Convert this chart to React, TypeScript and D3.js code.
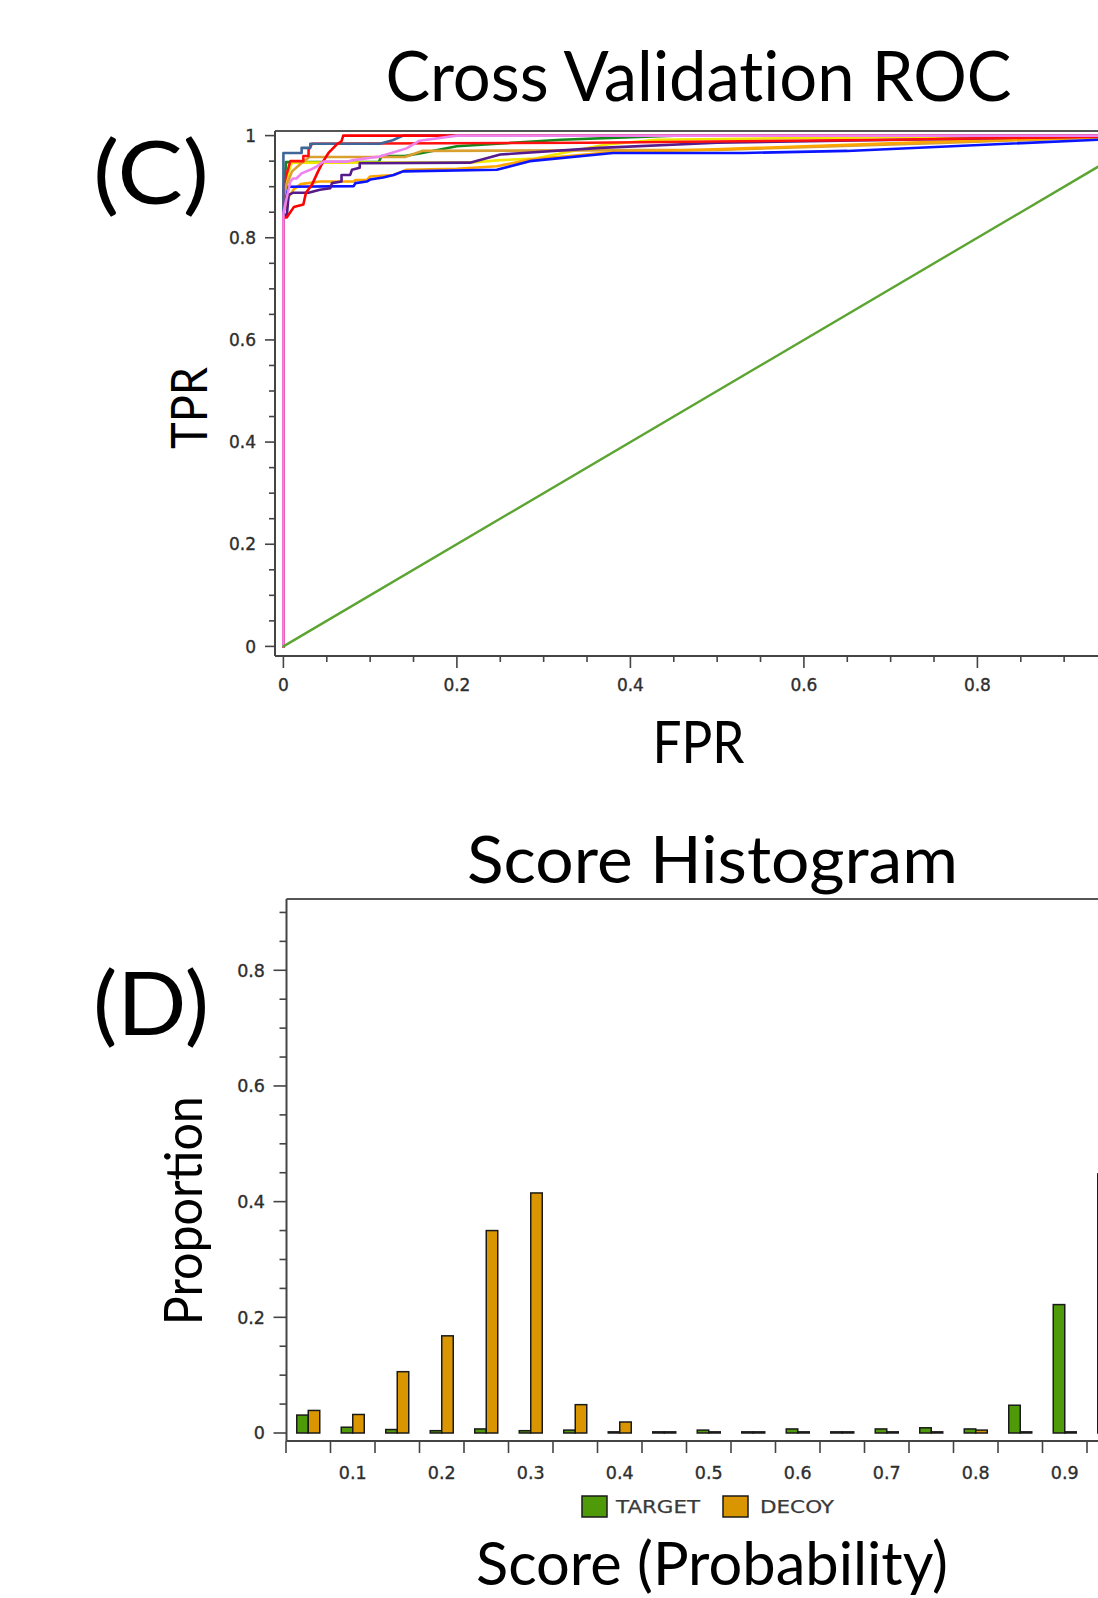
import React from "react";
import * as d3 from "d3";

// ---------- ROC data (FPR, TPR) ----------
const rocGreen: [number, number][] = [[0,0],[0,0.87],[0.003,0.948],[0.11,0.948],[0.113,0.96],[0.14,0.96],[0.16,0.966],[0.2,0.979],[0.32,0.992],[0.45,1],[1,1]];
const rocYellow: [number, number][] = [[0,0],[0,0.88],[0.002,0.9],[0.005,0.92],[0.008,0.94],[0.01,0.947],[0.215,0.947],[0.25,0.952],[0.29,0.955],[0.37,0.982],[0.43,0.992],[0.7,0.997],[1,1]];
const rocGoldenrod: [number, number][] = [[0,0],[0,0.88],[0.003,0.9],[0.01,0.93],[0.02,0.945],[0.03,0.958],[0.14,0.958],[0.16,0.97],[0.5,0.972],[0.75,0.985],[1,1]];
const rocOrange: [number, number][] = [[0,0],[0,0.85],[0.003,0.86],[0.006,0.88],[0.012,0.895],[0.02,0.905],[0.042,0.91],[0.081,0.91],[0.083,0.913],[0.096,0.913],[0.1,0.92],[0.127,0.923],[0.142,0.933],[0.2,0.935],[0.246,0.94],[0.284,0.953],[0.38,0.968],[0.48,0.972],[0.75,0.988],[1,1]];
const rocBlue: [number, number][] = [[0,0],[0,0.86],[0.002,0.87],[0.006,0.9],[0.081,0.901],[0.083,0.907],[0.096,0.91],[0.1,0.914],[0.115,0.918],[0.127,0.923],[0.138,0.93],[0.246,0.933],[0.284,0.95],[0.38,0.966],[0.53,0.966],[0.65,0.97],[0.94,0.992],[1,1]];
const rocPurple: [number, number][] = [[0,0],[0,0.845],[0.004,0.845],[0.006,0.884],[0.011,0.888],[0.029,0.888],[0.042,0.894],[0.054,0.897],[0.056,0.907],[0.067,0.91],[0.067,0.923],[0.077,0.923],[0.079,0.933],[0.088,0.937],[0.088,0.946],[0.215,0.947],[0.25,0.963],[0.365,0.976],[0.5,0.986],[0.75,0.993],[1,1]];
const rocRed2: [number, number][] = [[0,0],[0,0.9],[0.003,0.92],[0.008,0.95],[0.023,0.95],[0.023,0.96],[0.029,0.96],[0.029,0.972],[0.033,0.984],[0.35,0.986],[0.7,0.992],[0.94,0.998],[1,1]];
const rocSteel: [number, number][] = [[0,0],[0,0.966],[0.021,0.966],[0.021,0.976],[0.031,0.976],[0.031,0.984],[0.111,0.984],[0.126,0.991],[0.138,1],[1,1]];
const rocRed1: [number, number][] = [[0,0],[0,0.84],[0.004,0.84],[0.012,0.86],[0.023,0.865],[0.026,0.888],[0.033,0.904],[0.04,0.93],[0.046,0.95],[0.052,0.966],[0.061,0.982],[0.067,0.989],[0.069,1],[1,1]];
const rocViolet: [number, number][] = [[0,0],[0,0.848],[0.004,0.88],[0.008,0.91],[0.011,0.916],[0.015,0.916],[0.021,0.926],[0.031,0.933],[0.038,0.939],[0.046,0.949],[0.073,0.949],[0.081,0.952],[0.111,0.959],[0.142,0.975],[0.157,0.99],[0.2,1],[1,1]];
const rocDiagonal: [number, number][] = [[0,0],[1,1]];

const rocCurves = [
  { data: rocGreen, color: "#12871a" },
  { data: rocYellow, color: "#f2e600" },
  { data: rocGoldenrod, color: "#d9a030" },
  { data: rocOrange, color: "#ffa500" },
  { data: rocBlue, color: "#0a14ff" },
  { data: rocPurple, color: "#551a8b" },
  { data: rocRed2, color: "#ff1010" },
  { data: rocSteel, color: "#3f6699" },
  { data: rocRed1, color: "#ff0000" },
  { data: rocViolet, color: "#ee82ee" },
];

const rocXTicks = [0, 0.2, 0.4, 0.6, 0.8];
const rocXTickLabels = ["0", "0.2", "0.4", "0.6", "0.8"];
const rocYTicks = [0, 0.2, 0.4, 0.6, 0.8, 1];
const rocYTickLabels = ["0", "0.2", "0.4", "0.6", "0.8", "1"];

// ---------- Histogram data ----------
const histBins = ["0.05","0.1","0.15","0.2","0.25","0.3","0.35","0.4","0.45","0.5","0.55","0.6","0.65","0.7","0.75","0.8","0.85","0.9","0.95","1"];
const targetValues = [0.031, 0.010, 0.006, 0.004, 0.007, 0.004, 0.005, 0.002, 0.002, 0.005, 0.002, 0.007, 0.002, 0.007, 0.009, 0.007, 0.048, 0.222, 0.448, 0.2];
const decoyValues = [0.039, 0.032, 0.106, 0.168, 0.350, 0.415, 0.049, 0.019, 0.002, 0.002, 0.002, 0.002, 0.002, 0.002, 0.002, 0.005, 0.002, 0.002, 0.002, 0.002];
const histXLabelBins = ["0.1","0.2","0.3","0.4","0.5","0.6","0.7","0.8","0.9"];
const histYTicks = [0, 0.2, 0.4, 0.6, 0.8];
const histYTickLabels = ["0", "0.2", "0.4", "0.6", "0.8"];
const seriesNames = ["TARGET", "DECOY"];
const seriesColors = ["#4f9a08", "#d99600"];

const TICK_FONT = "'DejaVu Sans', Verdana, sans-serif";
const TITLE_FONT = "Lato, 'Open Sans', sans-serif";
const noLig: React.CSSProperties = { fontVariantLigatures: "none", fontFeatureSettings: "'liga' 0, 'clig' 0" };

export default function App() {
  // ROC scales
  const rx = d3.scaleLinear().domain([0, 1]).range([283.4, 1150.9]);
  const ry = d3.scaleLinear().domain([0, 1]).range([646.4, 135.6]);
  const rocLine = d3.line<[number, number]>().x((d) => rx(d[0])).y((d) => ry(d[1]));
  const rocAxisX = 275;
  const rocAxisY = 656;
  const rocTop = 131;
  const rocMinor = d3.range(0, 1.0001, 0.05);

  // Histogram scales
  const hx = d3.scaleBand<string>().domain(histBins).range([286, 286 + 44.5 * histBins.length]).padding(0);
  const bw = hx.bandwidth();
  const hSub = d3.scaleBand<string>().domain(seriesNames).range([bw / 2 - 11.5, bw / 2 + 11.5]).padding(0);
  const hy = d3.scaleLinear().domain([0, 1]).range([1433, 1433 - 578.4]);
  const histAxisX = 286.5;
  const histAxisY = 1441;
  const histTop = 899;
  const histMinor = d3.range(0, 0.9001, 0.05);

  const tickText = { fontFamily: TICK_FONT, fill: "#2e2e2e", stroke: "#2e2e2e", strokeWidth: 0.35 } as const;

  return (
    <svg width={1098} height={1598} style={{ position: "absolute", left: 0, top: 0, background: "#fff" }}>
      <rect x={0} y={0} width={1098} height={1598} fill="#fff" />

      {/* ---------- ROC panel ---------- */}
      <text x={385.4} y={101} style={noLig} fontFamily={TITLE_FONT} fontSize={70} textLength={626} lengthAdjust="spacingAndGlyphs" fill="#000">Cross Validation ROC</text>
      <text x={93} y={204} style={noLig} fontFamily={TITLE_FONT} fontSize={88} textLength={116} lengthAdjust="spacingAndGlyphs" fill="#000">(C)</text>
      <text transform={`translate(207,408) rotate(-90)`} textAnchor="middle" fontFamily={TITLE_FONT} fontSize={50} textLength={82} lengthAdjust="spacingAndGlyphs" fill="#000">TPR</text>
      <text x={698.4} y={763} textAnchor="middle" fontFamily={TITLE_FONT} fontSize={58} textLength={92} lengthAdjust="spacingAndGlyphs" fill="#000">FPR</text>

      {/* frame */}
      <line x1={rocAxisX} x2={1098} y1={rocTop} y2={rocTop} stroke="#555" strokeWidth={2} />
      <line x1={rocAxisX} x2={rocAxisX} y1={rocTop} y2={rocAxisY} stroke="#444" strokeWidth={2} />
      <line x1={rocAxisX} x2={1098} y1={rocAxisY} y2={rocAxisY} stroke="#444" strokeWidth={2} />

      {/* y ticks */}
      {rocMinor.map((v, i) => {
        const major = i % 4 === 0;
        return <line key={"ryt" + i} x1={rocAxisX - (major ? 10 : 6)} x2={rocAxisX} y1={ry(v)} y2={ry(v)} stroke="#444" strokeWidth={1.6} />;
      })}
      {rocYTicks.map((v, i) => (
        <text key={"ryl" + i} x={256} y={ry(v)} dy="0.36em" textAnchor="end" fontSize={17} {...tickText}>{rocYTickLabels[i]}</text>
      ))}
      {/* x ticks */}
      {rocMinor.map((v, i) => {
        const major = i % 4 === 0;
        return <line key={"rxt" + i} x1={rx(v)} x2={rx(v)} y1={rocAxisY} y2={rocAxisY + (major ? 12 : 6)} stroke="#444" strokeWidth={1.6} />;
      })}
      {rocXTicks.map((v, i) => (
        <text key={"rxl" + i} x={rx(v)} y={685} dy="0.36em" textAnchor="middle" fontSize={17} {...tickText}>{rocXTickLabels[i]}</text>
      ))}

      {/* curves */}
      <g fill="none" strokeLinejoin="round" strokeLinecap="round">
        {rocCurves.map((c, i) => (
          <path key={"rc" + i} d={rocLine(c.data) || ""} stroke={c.color} strokeWidth={2.6} />
        ))}
        <path d={rocLine(rocDiagonal) || ""} stroke="#5ca532" strokeWidth={2.4} />
      </g>

      {/* ---------- Histogram panel ---------- */}
      <text x={467} y={883} fontFamily={TITLE_FONT} fontSize={66} textLength={491} lengthAdjust="spacingAndGlyphs" fill="#000">Score Histogram</text>
      <text x={93} y={1035} fontFamily={TITLE_FONT} fontSize={88} textLength={116} lengthAdjust="spacingAndGlyphs" fill="#000">(D)</text>
      <text transform={`translate(202,1210.7) rotate(-90)`} textAnchor="middle" fontFamily={TITLE_FONT} fontSize={52} textLength={229} lengthAdjust="spacingAndGlyphs" fill="#000">Proportion</text>
      <text x={476} y={1585} fontFamily={TITLE_FONT} fontSize={60} textLength={472} lengthAdjust="spacingAndGlyphs" fill="#000">Score (Probability)</text>

      <line x1={histAxisX} x2={1098} y1={histTop} y2={histTop} stroke="#555" strokeWidth={2} />
      <line x1={histAxisX} x2={histAxisX} y1={histTop} y2={histAxisY} stroke="#444" strokeWidth={2} />
      <line x1={histAxisX} x2={1098} y1={histAxisY} y2={histAxisY} stroke="#444" strokeWidth={2} />

      {histMinor.map((v, i) => {
        const major = i % 4 === 0;
        return <line key={"hyt" + i} x1={histAxisX - (major ? 13 : 7)} x2={histAxisX} y1={hy(v)} y2={hy(v)} stroke="#444" strokeWidth={1.6} />;
      })}
      {histYTicks.map((v, i) => (
        <text key={"hyl" + i} x={265} y={hy(v)} dy="0.36em" textAnchor="end" fontSize={17.5} {...tickText}>{histYTickLabels[i]}</text>
      ))}
      {histBins.map((b, i) => (
        <line key={"hxt" + i} x1={hx(b)!} x2={hx(b)!} y1={histAxisY} y2={histAxisY + 12} stroke="#444" strokeWidth={1.6} />
      ))}
      {histXLabelBins.map((b, i) => (
        <text key={"hxl" + i} x={hx(b)! + bw / 2} y={1473} dy="0.36em" textAnchor="middle" fontSize={17.5} {...tickText}>{b}</text>
      ))}

      {/* bars */}
      {histBins.map((b, i) => (
        <g key={"bar" + i} transform={`translate(${hx(b)},0)`}>
          {[targetValues[i], decoyValues[i]].map((v, j) => (
            <rect key={j} x={hSub(seriesNames[j])!} y={hy(v)} width={hSub.bandwidth()} height={hy(0) - hy(v)} fill={seriesColors[j]} stroke="#1a1a1a" strokeWidth={1.5} />
          ))}
        </g>
      ))}

      {/* legend */}
      <rect x={582} y={1496} width={25} height={21} fill={seriesColors[0]} stroke="#1a1a1a" strokeWidth={1.5} />
      <text x={616} y={1506.7} dy="0.36em" fontSize={18} textLength={84} lengthAdjust="spacingAndGlyphs" {...tickText} fill="#3a3a3a" stroke="#3a3a3a" strokeWidth={0.25}>{seriesNames[0]}</text>
      <rect x={723} y={1496} width={25} height={21} fill={seriesColors[1]} stroke="#1a1a1a" strokeWidth={1.5} />
      <text x={760} y={1506.7} dy="0.36em" fontSize={18} textLength={74} lengthAdjust="spacingAndGlyphs" {...tickText} fill="#3a3a3a" stroke="#3a3a3a" strokeWidth={0.25}>{seriesNames[1]}</text>
    </svg>
  );
}
